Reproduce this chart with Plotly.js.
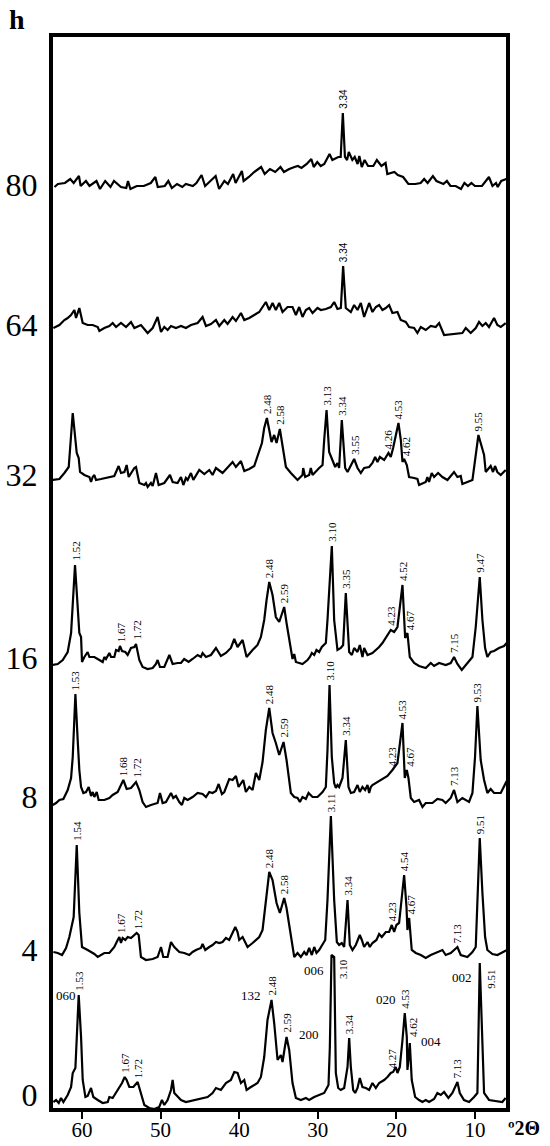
<!DOCTYPE html>
<html lang="en">
<head>
<meta charset="UTF-8">
<title>XRD patterns (h)</title>
<script src="https://cdn.plot.ly/plotly-3.0.1.min.js"></script>
<style>
  body { margin: 0; background: #fff; }
  #chart { width: 550px; height: 1146px; }
</style>
</head>
<body>
<div id="chart"></div>
<script>
// stacked diffractograms, x = degrees 2-theta, y = offset intensity
const theta80 = [63.5,63.06,62.17,61.5,61.06,60.39,60.17,59.5,59.05,58.16,57.71,57.05,56.38,55.93,55.04,54.37,54.15,53.84,53.03,52.14,51.25,50.67,50.36,49.47,49.02,48.57,47.91,47.24,46.79,45.9,45.45,44.79,44.34,43.67,43.0,42.56,41.89,41.44,40.77,40.46,39.66,39.44,38.77,38.1,37.21,36.76,36.09,35.42,34.75,34.31,33.64,32.97,32.53,32.08,31.41,30.83,30.52,30.07,29.63,29.18,28.51,28.15,27.4,27.09,26.82,26.55,26.28,26.06,25.61,25.3,24.94,24.72,24.41,24.05,23.61,22.94,22.49,21.91,21.38,21.16,20.26,19.82,19.15,18.48,17.59,16.92,16.47,16.03,15.36,14.91,14.02,13.58,13.13,12.46,11.79,11.35,10.9,10.46,10.01,9.12,8.23,7.78,7.33,7.11,6.67,6.0];
const int80 = [923,926,927,931,927,934,924,929,924,929,921,929,923,929,923,922,929,921,924,924,927,933,923,924,929,922,926,923,926,924,927,935,924,929,934,921,929,926,936,927,939,929,933,938,943,936,941,938,943,938,941,943,944,942,946,951,943,948,944,946,956,950,953,953,997,953,950,958,950,953,946,954,943,950,944,944,950,944,947,936,938,935,933,926,926,927,931,927,934,929,926,929,924,924,921,927,924,927,924,924,933,924,927,923,929,931];

const theta64 = [63.64,62.88,62.24,61.82,61.4,60.97,60.76,60.34,59.91,59.28,58.64,58.0,57.79,57.16,56.52,56.1,55.67,55.04,54.4,53.77,53.34,52.5,51.65,51.01,50.38,49.95,49.53,49.11,48.68,48.05,47.41,46.78,46.14,45.29,44.66,44.23,43.6,42.96,42.54,41.9,41.48,40.84,40.42,39.78,39.36,38.72,38.09,37.45,36.61,36.18,35.76,35.34,34.91,34.49,33.85,33.22,32.79,32.37,31.95,31.52,31.1,30.67,30.04,29.61,28.98,28.34,27.92,27.5,27.07,26.78,26.44,25.8,25.38,24.95,24.53,24.11,23.47,23.05,22.62,22.2,21.78,21.35,20.93,20.51,19.87,19.45,18.81,18.39,17.75,17.33,16.9,16.27,15.63,15.0,14.57,13.94,11.61,11.18,10.55,9.91,9.49,9.06,8.64,8.22,7.58,7.16,6.73,6.1];
const int64 = [782,785,790,792,795,800,792,802,787,785,785,783,779,782,784,787,783,787,783,788,782,785,777,782,793,778,783,780,784,782,784,782,785,787,793,784,786,790,784,790,786,793,789,797,790,792,795,798,808,800,807,800,807,798,803,803,795,803,793,800,802,797,802,800,801,803,808,801,802,844,802,798,805,800,807,793,807,798,803,805,800,802,805,797,798,790,788,783,782,777,783,780,784,783,787,775,777,782,777,782,788,784,787,783,792,785,783,787];

const theta32 = [63.72,62.88,62.24,61.69,61.18,60.67,60.42,60.25,59.7,59.06,58.85,58.64,58.43,58.22,57.58,56.95,56.52,55.89,55.34,55.04,54.61,54.32,54.06,53.34,53.13,52.71,52.07,51.86,51.65,51.23,51.01,50.59,50.25,49.53,48.81,48.47,47.84,47.41,47.11,46.78,46.56,46.14,45.84,45.08,44.44,43.81,43.39,42.96,42.12,41.27,40.84,40.42,39.78,39.36,38.72,38.09,37.45,37.11,36.82,36.48,36.18,35.89,35.55,35.25,34.83,34.49,34.06,33.43,33.0,32.58,31.95,31.86,31.61,31.1,30.89,30.67,29.83,29.4,29.19,28.89,28.56,28.13,27.79,27.5,27.29,26.95,26.52,26.22,25.8,25.38,24.95,24.53,24.11,23.47,23.05,22.71,22.41,22.11,21.56,21.01,20.72,20.42,19.74,19.44,19.23,19.02,18.68,18.39,17.75,17.33,17.12,16.27,16.06,15.85,15.51,15.21,14.7,14.15,13.51,12.67,12.24,11.82,11.61,10.97,10.33,9.57,9.28,8.85,8.64,8.01,7.71,7.46,7.16,6.73,6.1];
const int32 = [630,631,637,643,697,657,652,638,635,633,628,633,635,630,631,632,633,634,644,637,638,645,633,642,643,627,625,627,623,627,624,637,625,627,635,628,627,633,625,632,630,637,630,640,636,640,635,642,637,644,648,643,649,639,641,644,658,667,682,692,680,668,675,667,681,665,643,637,633,630,635,642,633,635,642,635,642,645,670,700,658,650,643,647,642,690,642,638,645,651,642,637,642,643,647,653,648,653,650,657,653,662,687,670,648,651,645,633,632,631,625,628,633,628,637,633,637,633,630,638,633,634,626,628,630,675,667,655,638,644,638,644,638,635,640];

const theta16 = [63.72,63.09,62.45,61.82,61.39,61.18,60.89,60.55,60.34,60.12,60.0,59.7,59.28,59.06,58.43,57.79,57.37,57.16,56.95,56.52,56.31,55.89,55.67,55.34,55.17,54.91,54.49,54.19,53.77,53.34,53.13,52.71,52.29,51.65,51.01,50.59,50.38,50.08,49.53,48.89,48.47,47.84,47.41,47.0,46.44,45.93,45.29,44.87,44.66,44.23,43.6,42.96,42.33,41.69,41.06,40.63,40.21,39.57,39.06,38.3,37.67,37.24,36.82,36.52,36.18,35.76,35.34,34.91,34.49,34.28,33.98,33.56,33.22,33.0,32.79,31.95,31.31,31.01,30.76,30.46,30.17,29.83,29.49,28.98,28.77,28.22,27.92,27.5,27.07,26.78,26.44,26.01,25.67,25.38,24.95,24.66,24.32,24.11,23.68,23.05,22.62,22.2,21.78,21.35,20.93,20.72,20.29,19.87,19.23,18.89,18.6,18.3,17.75,17.12,16.27,15.63,15.21,14.57,13.73,13.09,12.67,12.24,11.69,11.18,10.33,9.91,9.4,9.06,8.72,8.43,8.01,7.58,6.95,6.31,5.97];
const int16 = [445,446,450,458,477,507,545,503,477,473,448,453,458,453,453,450,448,453,451,457,453,453,460,459,464,459,458,455,462,463,466,450,443,441,442,446,450,443,443,455,446,447,447,451,448,451,455,453,457,453,455,462,454,457,462,471,463,470,453,460,465,473,490,510,528,515,493,488,498,503,487,465,451,456,448,446,450,453,457,455,460,458,463,467,490,564,490,460,462,465,517,458,455,462,458,465,453,462,455,457,460,463,467,472,477,480,478,483,525,472,477,453,447,444,442,447,444,447,445,447,453,446,440,445,453,483,533,490,462,453,458,459,462,464,467];

const theta8 = [63.72,63.3,62.88,62.37,61.82,61.39,61.18,60.84,60.55,60.34,60.12,59.83,59.49,59.15,58.85,58.64,58.43,58.13,57.88,57.16,56.52,56.1,55.46,55.04,54.74,54.32,53.77,53.13,52.71,52.29,51.86,51.23,50.8,50.38,50.08,49.74,49.32,48.68,48.39,48.05,47.62,47.29,46.99,46.56,45.93,45.29,44.66,44.23,43.81,43.39,42.96,42.62,42.2,41.9,41.27,40.84,40.42,40.08,39.49,39.15,38.72,38.3,37.88,37.45,37.03,36.61,36.18,35.76,35.34,34.91,34.36,33.98,33.43,33.0,32.58,32.28,31.95,31.52,31.18,30.67,30.04,29.4,28.98,28.77,28.51,28.22,27.92,27.71,27.5,27.29,26.86,26.44,26.1,25.8,25.38,24.95,24.66,24.32,23.98,23.68,23.47,23.26,23.05,22.41,21.78,21.14,20.51,19.87,19.23,18.94,18.68,18.47,18.17,17.75,17.12,16.69,16.27,15.42,14.79,14.15,13.73,13.09,12.67,12.24,11.61,10.76,10.33,10.0,9.7,9.28,8.85,8.43,8.01,7.58,6.73,6.31,5.97];
const int8 = [305,307,310,311,320,332,353,416,370,340,323,317,318,323,314,318,313,318,310,310,312,315,318,325,330,321,322,328,320,308,303,305,306,307,317,307,308,317,312,314,308,305,312,310,313,317,316,313,318,317,319,326,316,318,331,330,334,323,330,318,323,320,337,330,348,380,402,377,367,355,368,350,317,313,312,308,313,311,317,313,313,318,323,360,425,353,327,322,325,323,332,370,323,317,318,325,318,323,320,325,317,323,325,328,331,334,340,347,387,332,340,332,312,308,310,303,307,307,311,310,307,312,320,308,312,308,317,353,404,350,330,317,321,317,317,323,329];

const theta4 = [63.64,63.09,62.54,62.03,61.61,61.27,61.06,60.67,60.34,60.0,59.7,59.28,58.85,58.43,58.0,57.58,57.16,56.52,55.89,55.46,55.25,55.04,54.83,54.49,54.19,53.77,53.34,53.05,52.79,52.5,51.86,51.01,50.38,49.95,49.66,49.11,48.68,48.26,47.62,46.99,46.35,45.93,45.5,44.87,44.66,44.32,43.81,43.39,42.96,42.54,42.12,41.69,41.27,40.84,40.5,40.21,40.0,39.57,38.94,38.3,37.45,37.03,36.61,36.18,35.76,35.25,34.83,34.28,33.98,33.43,33.0,32.58,32.16,31.73,31.44,31.1,30.76,30.46,30.17,29.83,29.06,28.77,28.34,27.92,27.58,27.29,26.95,26.65,26.22,25.93,25.59,25.17,24.66,24.4,24.11,23.68,23.39,23.05,22.54,22.2,21.86,21.35,20.93,20.59,20.29,20.0,19.66,19.02,18.72,18.6,18.38,18.05,17.54,16.9,16.27,15.63,15.0,14.15,13.73,13.09,12.24,11.82,10.97,10.33,9.91,9.4,9.06,8.72,8.43,7.79,7.16,6.53,5.97];
const int4 = [158,157,155,162,173,185,193,265,197,163,162,160,158,156,153,155,157,157,163,170,173,167,172,170,173,172,175,177,175,153,150,151,153,163,153,153,168,163,158,157,155,158,160,162,166,160,163,165,168,167,168,172,170,178,183,178,170,173,163,167,173,180,210,238,230,207,197,212,202,173,153,157,153,158,155,162,155,163,157,160,170,210,294,210,168,165,167,163,210,165,160,165,175,170,163,168,163,167,170,176,173,178,178,185,178,185,187,235,203,180,192,160,157,155,152,155,157,160,155,157,163,155,153,158,163,272,217,173,160,156,155,158,160];

const theta0 = [63.64,63.3,62.96,62.67,62.37,61.82,61.39,61.18,60.84,60.42,60.12,59.91,59.57,59.28,58.85,58.56,58.0,57.37,56.73,56.52,56.1,55.46,54.91,54.57,54.32,53.98,53.47,52.92,52.5,52.07,51.44,50.8,50.17,49.83,49.53,49.11,48.68,48.47,48.26,47.84,47.41,46.78,46.14,45.5,44.66,44.02,43.39,42.96,42.33,41.69,41.06,40.63,40.21,39.78,39.36,39.06,38.51,38.09,37.67,37.24,36.82,36.4,35.89,35.55,35.12,34.7,34.49,34.19,33.98,33.64,33.22,32.79,32.16,31.52,31.1,30.46,29.83,29.19,28.64,28.47,28.26,27.92,27.71,27.41,27.08,26.65,26.22,26.01,25.8,25.5,25.25,24.95,24.66,24.32,23.89,23.47,23.05,22.62,22.2,21.56,21.14,20.72,20.42,20.08,19.87,19.57,19.23,18.94,18.68,18.6,18.47,18.3,18.05,17.62,17.12,16.69,16.27,15.85,15.21,14.79,14.36,13.94,13.39,12.88,12.24,11.94,11.4,10.76,10.12,9.7,9.4,8.85,8.22,7.37,6.53,6.1];
const int0 = [8,10,7,12,8,15,23,37,42,115,73,30,13,14,22,13,10,7,8,13,12,20,27,33,30,23,23,28,17,5,2,1,3,10,5,10,20,30,17,13,10,8,9,10,12,13,17,22,20,27,30,38,37,27,30,20,23,25,27,33,53,90,110,87,50,55,48,63,73,60,27,12,10,12,10,13,15,17,25,63,155,153,37,22,20,22,43,72,43,20,17,22,32,23,22,20,27,22,27,30,33,37,38,43,37,43,70,97,73,40,50,67,30,13,10,8,10,8,11,17,15,18,12,17,28,17,10,8,13,17,147,17,10,9,8,12];

// d-spacing labels sitting on top of a peak: [2theta, text]
const peaks80 = [[26.82,'3.34']];
const peaks64 = [[26.78,'3.34']];
const peaks32 = [[36.48,'2.48'],[34.83,'2.58'],[28.89,'3.13'],[26.95,'3.34'],[25.3,'3.55'],[21.01,'4.26'],[19.74,'4.53'],[9.57,'9.55']];
const peaks16 = [[60.89,'1.52'],[55.0,'1.67'],[53.13,'1.72'],[36.18,'2.48'],[34.28,'2.59'],[28.22,'3.10'],[26.44,'3.35'],[20.72,'4.23'],[19.23,'4.52'],[12.67,'7.15'],[9.4,'9.47']];
const peaks8 = [[60.84,'1.53'],[54.74,'1.68'],[53.13,'1.72'],[36.18,'2.48'],[34.36,'2.59'],[28.51,'3.10'],[26.44,'3.34'],[20.51,'4.23'],[19.23,'4.53'],[12.67,'7.13'],[9.7,'9.53']];
const peaks4 = [[60.67,'1.54'],[55.04,'1.67'],[52.9,'1.72'],[36.18,'2.48'],[34.28,'2.58'],[28.34,'3.11'],[26.22,'3.34'],[20.5,'4.23'],[19.02,'4.54'],[12.24,'7.13'],[9.4,'9.51']];
const peaks0 = [[60.42,'1.53'],[54.57,'1.67'],[52.92,'1.72'],[35.89,'2.48'],[33.98,'2.59'],[26.01,'3.34'],[20.5,'4.27'],[18.94,'4.53'],[12.24,'7.13']];
// labels set beside a peak: [2theta, y, text]
const side32 = [[18.75,663,'4.62']];
const side16 = [[18.25,490,'4.67']];
const side8 = [[18.3,353,'4.67']];
const side4 = [[18.2,205,'4.67']];
const side0 = [[26.8,141,'3.10'],[17.9,83,'4.62'],[8.0,131,'9.51']];
// Miller indices on the bottom pattern
const hkl0 = [[62.05,115,'060'],[38.5,115,'132'],[31.1,76,'200'],[30.46,140,'006'],[21.35,111,'020'],[15.6,69,'004'],[11.6,133,'002']];

const offsetTicks = [15,160,313,452,635,785,925];
const offsetLabels = ['0','4','8','16','32','64','80'];

const patterns = [
  {x: theta0, y: int0, peaks: peaks0, side: side0, font: 'Liberation Serif'},
  {x: theta4, y: int4, peaks: peaks4, side: side4, font: 'Liberation Serif'},
  {x: theta8, y: int8, peaks: peaks8, side: side8, font: 'Liberation Serif'},
  {x: theta16, y: int16, peaks: peaks16, side: side16, font: 'Liberation Serif'},
  {x: theta32, y: int32, peaks: peaks32, side: side32, font: 'Liberation Serif'},
  {x: theta64, y: int64, peaks: peaks64, side: [], font: 'Liberation Sans'},
  {x: theta80, y: int80, peaks: peaks80, side: [], font: 'Liberation Sans'}
];

function peakTop(xs, ys, t) {
  let m = -Infinity;
  xs.forEach((v, i) => { if (Math.abs(v - t) <= 0.4 && ys[i] > m) m = ys[i]; });
  return m;
}

const traces = patterns.map(p => ({
  type: 'scatter', mode: 'lines', x: p.x, y: p.y,
  line: {color: '#000', width: 2.2}, hoverinfo: 'skip'
}));

const annotations = [];
patterns.forEach(p => {
  const f = {family: p.font, size: p.font === 'Liberation Sans' ? 10 : 11, color: '#000'};
  p.peaks.forEach(([t, txt]) => annotations.push({
    x: t, y: peakTop(p.x, p.y, t), text: txt, textangle: -90,
    xanchor: 'center', yanchor: 'bottom', yshift: 2, showarrow: false, font: f
  }));
  p.side.forEach(([t, yv, txt]) => annotations.push({
    x: t, y: yv, text: txt, textangle: -90,
    xanchor: 'center', yanchor: 'middle', showarrow: false, font: f
  }));
});
hkl0.forEach(([t, yv, txt]) => annotations.push({
  x: t, y: yv, text: txt, xanchor: 'center', yanchor: 'middle', showarrow: false,
  font: {family: 'Liberation Serif', size: 13, color: '#000'}
}));
annotations.push({
  xref: 'paper', yref: 'paper', x: -0.08, y: 1.016, text: '<b>h</b>',
  showarrow: false, xanchor: 'center', yanchor: 'middle',
  font: {family: 'Liberation Serif', size: 28, color: '#000'}
});
annotations.push({
  xref: 'paper', yref: 'paper', x: 1.04, y: -0.019, text: '<b>º2Θ</b>',
  showarrow: false, xanchor: 'center', yanchor: 'middle',
  font: {family: 'Liberation Serif', size: 20, color: '#000'}
});

const layout = {
  width: 550, height: 1146,
  margin: {l: 53, r: 44, t: 37, b: 38},
  paper_bgcolor: '#fff', plot_bgcolor: '#fff',
  showlegend: false,
  xaxis: {
    range: [63.69, 6.06], showgrid: false, zeroline: false,
    showline: true, linewidth: 4, linecolor: '#000', mirror: true,
    tickvals: [60, 50, 40, 30, 20, 10], ticks: 'outside', ticklen: 7, tickwidth: 2, tickcolor: '#000',
    ticklabelstandoff: -7,
    tickfont: {family: 'Liberation Serif', size: 21, color: '#000'}
  },
  yaxis: {
    range: [2, 1073], showgrid: false, zeroline: false,
    showline: true, linewidth: 4, linecolor: '#000', mirror: true,
    tickvals: offsetTicks, ticktext: offsetLabels, ticks: '', ticklabelstandoff: 5,
    tickfont: {family: 'Liberation Serif', size: 32, color: '#000'}
  },
  annotations: annotations
};

Plotly.newPlot('chart', traces, layout, {displayModeBar: false, staticPlot: true});
</script>
</body>
</html>
